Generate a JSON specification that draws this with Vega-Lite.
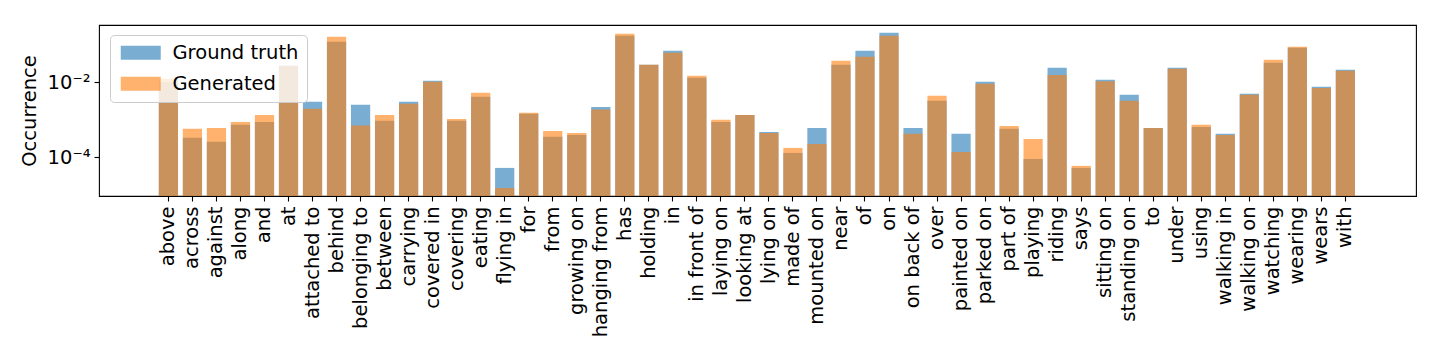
{
  "$schema": "https://vega.github.io/schema/vega-lite/v6.json",
  "width": 1317,
  "height": 171,
  "autosize": {"type": "none"},
  "padding": {"left": 99, "top": 25, "right": 24, "bottom": 164},
  "background": "white",
  "config": {
    "font": "DejaVu Sans",
    "view": {"stroke": "#000000", "strokeWidth": 1.1}
  },
  "data": {
    "values": [
      {"rel": "above", "Ground truth": 0.0100, "Generated": 0.0123},
      {"rel": "across", "Ground truth": 0.00033, "Generated": 0.00057},
      {"rel": "against", "Ground truth": 0.00026, "Generated": 0.00060},
      {"rel": "along", "Ground truth": 0.00073, "Generated": 0.00087},
      {"rel": "and", "Ground truth": 0.00087, "Generated": 0.00134},
      {"rel": "at", "Ground truth": 0.0272, "Generated": 0.0272},
      {"rel": "attached to", "Ground truth": 0.00299, "Generated": 0.00194},
      {"rel": "behind", "Ground truth": 0.119, "Generated": 0.161},
      {"rel": "belonging to", "Ground truth": 0.00248, "Generated": 0.00070},
      {"rel": "between", "Ground truth": 0.00093, "Generated": 0.00134},
      {"rel": "carrying", "Ground truth": 0.00299, "Generated": 0.00264},
      {"rel": "covered in", "Ground truth": 0.0108, "Generated": 0.0102},
      {"rel": "covering", "Ground truth": 0.00093, "Generated": 0.00105},
      {"rel": "eating", "Ground truth": 0.00405, "Generated": 0.0052},
      {"rel": "flying in", "Ground truth": 0.000052, "Generated": 0.0000152},
      {"rel": "for", "Ground truth": 0.00143, "Generated": 0.00152},
      {"rel": "from", "Ground truth": 0.00035, "Generated": 0.00050},
      {"rel": "growing on", "Ground truth": 0.00039, "Generated": 0.00044},
      {"rel": "hanging from", "Ground truth": 0.00219, "Generated": 0.00186},
      {"rel": "has", "Ground truth": 0.172, "Generated": 0.194},
      {"rel": "holding", "Ground truth": 0.0289, "Generated": 0.0289},
      {"rel": "in", "Ground truth": 0.0684, "Generated": 0.0604},
      {"rel": "in front of", "Ground truth": 0.0130, "Generated": 0.0147},
      {"rel": "laying on", "Ground truth": 0.00087, "Generated": 0.00099},
      {"rel": "looking at", "Ground truth": 0.00134, "Generated": 0.00134},
      {"rel": "lying on", "Ground truth": 0.00047, "Generated": 0.00044},
      {"rel": "made of", "Ground truth": 0.000130, "Generated": 0.000177},
      {"rel": "mounted on", "Ground truth": 0.00060, "Generated": 0.000226},
      {"rel": "near", "Ground truth": 0.0289, "Generated": 0.037},
      {"rel": "of", "Ground truth": 0.0684, "Generated": 0.0473},
      {"rel": "on", "Ground truth": 0.206, "Generated": 0.172},
      {"rel": "on back of", "Ground truth": 0.00060, "Generated": 0.00042},
      {"rel": "over", "Ground truth": 0.0032, "Generated": 0.0043},
      {"rel": "painted on", "Ground truth": 0.00042, "Generated": 0.000138},
      {"rel": "parked on", "Ground truth": 0.0102, "Generated": 0.0090},
      {"rel": "part of", "Ground truth": 0.00057, "Generated": 0.00068},
      {"rel": "playing", "Ground truth": 0.000090, "Generated": 0.000308},
      {"rel": "riding", "Ground truth": 0.024, "Generated": 0.0154},
      {"rel": "says", "Ground truth": 0.000052, "Generated": 0.000059},
      {"rel": "sitting on", "Ground truth": 0.0115, "Generated": 0.0106},
      {"rel": "standing on", "Ground truth": 0.0046, "Generated": 0.0032},
      {"rel": "to", "Ground truth": 0.00060, "Generated": 0.00060},
      {"rel": "under", "Ground truth": 0.024, "Generated": 0.0226},
      {"rel": "using", "Ground truth": 0.00064, "Generated": 0.00073},
      {"rel": "walking in", "Ground truth": 0.00042, "Generated": 0.00039},
      {"rel": "walking on", "Ground truth": 0.0049, "Generated": 0.0046},
      {"rel": "watching", "Ground truth": 0.0327, "Generated": 0.0393},
      {"rel": "wearing", "Ground truth": 0.0822, "Generated": 0.0873},
      {"rel": "wears", "Ground truth": 0.0075, "Generated": 0.0070},
      {"rel": "with", "Ground truth": 0.0213, "Generated": 0.0200}
    ]
  },
  "transform": [
    {"fold": ["Ground truth", "Generated"], "as": ["series", "value"]}
  ],
  "mark": {"type": "bar", "opacity": 0.6, "clip": true},
  "encoding": {
    "x": {
      "field": "rel", "type": "nominal", "sort": null,
      "scale": {"paddingInner": 0.2, "paddingOuter": 0, "range": [59.8, 1256]},
      "axis": {"title": null, "labelAngle": -90, "labelPadding": 5, "domain": false, "grid": false,
               "labelFont": "DejaVu Sans", "labelFontSize": 19.5, "labelColor": "#000",
               "tickColor": "#000", "tickSize": 5, "tickWidth": 1.1}
    },
    "y": {
      "field": "value", "type": "quantitative", "stack": null,
      "scale": {"type": "log", "domain": [0.0000093, 0.331], "nice": false},
      "axis": {"title": "Occurrence", "values": [0.0001, 0.01], "labelExpr": "datum.value > 0.001 ? '10⁻²' : '10⁻⁴'",
               "labelPadding": 4, "titlePadding": 8, "domain": false, "grid": false,
               "labelFont": "DejaVu Sans", "labelFontSize": 19.5, "labelColor": "#000",
               "titleFont": "DejaVu Sans", "titleFontSize": 19.5, "titleFontWeight": "normal", "titleColor": "#000",
               "tickColor": "#000", "tickSize": 5, "tickWidth": 1.1}
    },
    "color": {
      "field": "series", "type": "nominal",
      "scale": {"domain": ["Ground truth", "Generated"], "range": ["#1f77b4", "#ff7f0e"]},
      "legend": {
        "title": null, "orient": "none", "legendX": 11, "legendY": 10,
        "symbolType": "M-1,-1H4.714V1H-1Z", "symbolSize": 196, "symbolOpacity": 0.6, "symbolStrokeWidth": 0,
        "labelFont": "DejaVu Sans", "labelFontSize": 19.5, "labelColor": "#000", "labelOffset": 35,
        "rowPadding": 10, "padding": 8,
        "fillColor": "rgba(255,255,255,0.8)", "strokeColor": "#cccccc", "cornerRadius": 4
      }
    }
  }
}
